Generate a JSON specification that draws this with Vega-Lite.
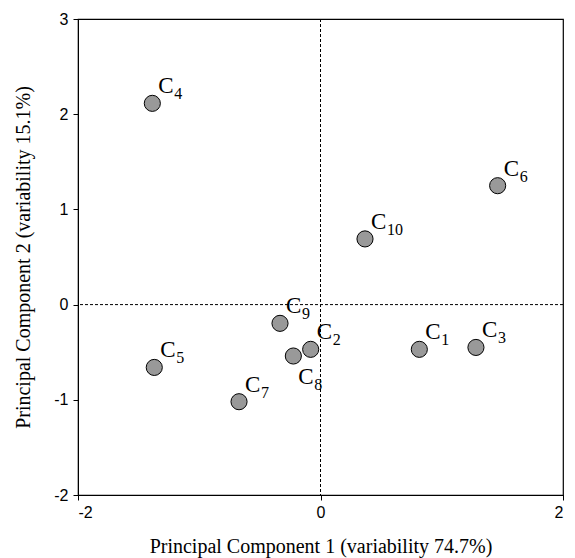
{
  "$schema": "https://vega.github.io/schema/vega-lite/v6.json",
  "width": 485,
  "height": 476,
  "autosize": "none",
  "padding": {"left": 78, "top": 19, "right": 12, "bottom": 63},
  "config": {
    "view": {"stroke": "black", "strokeWidth": 1.2},
    "axis": {
      "grid": false,
      "domainColor": "black",
      "tickColor": "black",
      "tickSize": 5,
      "labelFont": "Liberation Sans",
      "labelFontSize": 16,
      "labelColor": "black",
      "labelExpr": "replace(datum.label, '−', '-')",
      "titleFont": "Liberation Serif",
      "titleFontSize": 20,
      "titleFontWeight": "normal",
      "titleColor": "black"
    }
  },
  "data": {
    "values": [
      {"name": "C", "num": "1", "pc1": 0.815, "pc2": -0.47},
      {"name": "C", "num": "2", "pc1": -0.081, "pc2": -0.47},
      {"name": "C", "num": "3", "pc1": 1.282, "pc2": -0.45},
      {"name": "C", "num": "4", "pc1": -1.387, "pc2": 2.114},
      {"name": "C", "num": "5", "pc1": -1.371, "pc2": -0.66},
      {"name": "C", "num": "6", "pc1": 1.461, "pc2": 1.249},
      {"name": "C", "num": "7", "pc1": -0.672, "pc2": -1.02},
      {"name": "C", "num": "8", "pc1": -0.224, "pc2": -0.54},
      {"name": "C", "num": "9", "pc1": -0.334, "pc2": -0.197},
      {"name": "C", "num": "10", "pc1": 0.367, "pc2": 0.69}
    ]
  },
  "encoding": {
    "x": {
      "field": "pc1", "type": "quantitative",
      "scale": {"domain": [-2, 2], "nice": false, "zero": false},
      "axis": {"values": [-2, 0, 2], "title": "Principal Component 1 (variability 74.7%)", "titlePadding": 16, "labelPadding": 4}
    },
    "y": {
      "field": "pc2", "type": "quantitative",
      "scale": {"domain": [-2, 3], "nice": false, "zero": false},
      "axis": {"values": [-2, -1, 0, 1, 2, 3], "title": "Principal Component 2 (variability 15.1%)", "titlePadding": 20, "labelPadding": 5}
    }
  },
  "layer": [
    {
      "data": {"values": [{"v": 0}]},
      "mark": {"type": "rule", "color": "black", "strokeDash": [3, 2], "strokeWidth": 1},
      "encoding": {"x": {"field": "v", "type": "quantitative"}, "y": null}
    },
    {
      "data": {"values": [{"v": 0}]},
      "mark": {"type": "rule", "color": "black", "strokeDash": [3, 2], "strokeWidth": 1},
      "encoding": {"y": {"field": "v", "type": "quantitative"}, "x": null}
    },
    {
      "mark": {"type": "point", "shape": "circle", "filled": true, "size": 260, "fill": "#999999", "stroke": "black", "strokeWidth": 1, "opacity": 1}
    },
    {
      "transform": [{"filter": "datum.num != '8'"}],
      "mark": {"type": "text", "font": "Liberation Serif", "fontSize": 23, "align": "left", "baseline": "alphabetic", "dx": 6, "dy": -10, "color": "black"},
      "encoding": {"text": {"field": "name"}}
    },
    {
      "transform": [{"filter": "datum.num != '8'"}],
      "mark": {"type": "text", "font": "Liberation Serif", "fontSize": 16, "align": "left", "baseline": "alphabetic", "dx": 22, "dy": -4, "color": "black"},
      "encoding": {"text": {"field": "num"}}
    },
    {
      "transform": [{"filter": "datum.num == '8'"}],
      "mark": {"type": "text", "font": "Liberation Serif", "fontSize": 23, "align": "left", "baseline": "alphabetic", "dx": 5, "dy": 28, "color": "black"},
      "encoding": {"text": {"field": "name"}}
    },
    {
      "transform": [{"filter": "datum.num == '8'"}],
      "mark": {"type": "text", "font": "Liberation Serif", "fontSize": 16, "align": "left", "baseline": "alphabetic", "dx": 21, "dy": 34, "color": "black"},
      "encoding": {"text": {"field": "num"}}
    }
  ]
}
